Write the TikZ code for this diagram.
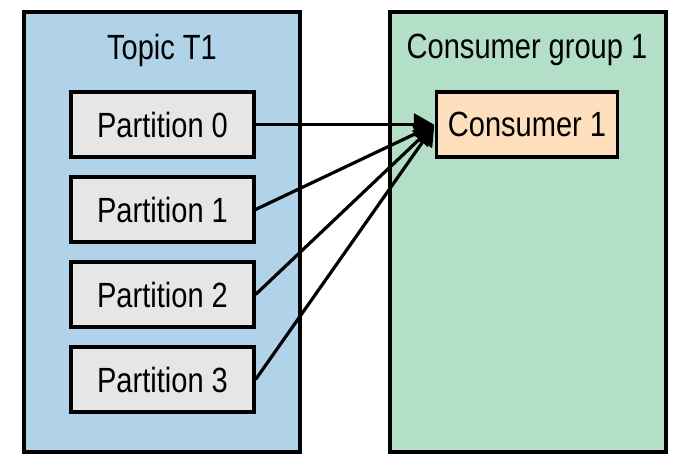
\documentclass[tikz,border=0pt]{standalone}
\usepackage{fontspec}
\setmainfont[FakeStretch=0.83]{Liberation Sans}
\usepackage{xcolor}
\usetikzlibrary{arrows.meta, positioning}

\definecolor{topicblue}{RGB}{177,211,233}
\definecolor{groupgreen}{RGB}{179,223,201}
\definecolor{partgray}{RGB}{230,230,230}
\definecolor{consumerpeach}{RGB}{253,223,189}

\begin{document}
\begin{tikzpicture}[
    x=0.5pt, y=-0.5pt,
    % Global styles
    font=\fontsize{17.5}{20}\selectfont,
    % Box styles
    outerbox/.style={
      rectangle, draw=black, fill=#1, line width=1.6pt,
      minimum width=138pt, minimum height=220pt, inner sep=0pt
    },
    partbox/.style={
      rectangle, draw=black, fill=partgray, line width=1.6pt,
      minimum width=91.5pt, minimum height=32.5pt, inner sep=0pt
    },
    consumerbox/.style={
      rectangle, draw=black, fill=consumerpeach, line width=1.6pt,
      minimum width=90.5pt, minimum height=32.5pt, inner sep=0pt
    },
    boxtitle/.style={inner sep=0pt},
    arr/.style={-{Triangle[length=10pt, width=11pt]}, line width=1.6pt, shorten >=0.5pt},
  ]

  \useasboundingbox (0, 0) rectangle (686, 466);

  % ====================================================================
  % LEFT SIDE -- Topic
  % ====================================================================
  \node[outerbox=topicblue] (topic) at (162, 232) {};
  \node[boxtitle] (ttitle) at (162, 50) {Topic T1};

  \node[partbox] (p0) at (162.5, 124.5) {Partition 0};
  \node[partbox] (p1) at (162.5, 209.5) {Partition 1};
  \node[partbox] (p2) at (162.5, 294.5) {Partition 2};
  \node[partbox] (p3) at (162.5, 379.5) {Partition 3};

  % ====================================================================
  % RIGHT SIDE -- Consumer group
  % ====================================================================
  \node[outerbox=groupgreen] (group) at (528, 232) {};
  \node[boxtitle] (gtitle) at (527, 50) {Consumer group 1};

  \node[consumerbox] (consumer) at (527, 124.5) {Consumer 1};

  % ------- Arrows -------
  \draw[arr] (p0.east) -- (consumer.west);
  \draw[arr] (p1.east) -- (consumer.west);
  \draw[arr] (p2.east) -- (consumer.west);
  \draw[arr] (p3.east) -- (consumer.west);

\end{tikzpicture}
\end{document}
